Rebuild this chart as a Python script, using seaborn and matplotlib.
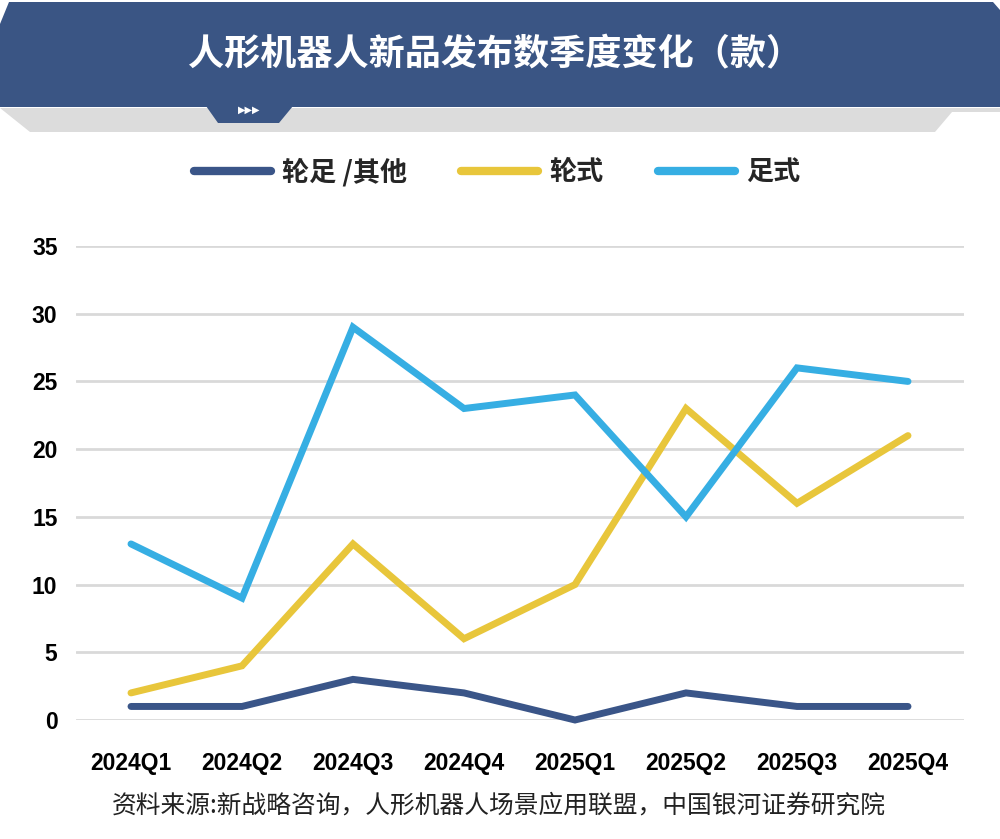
import pandas as pd
import matplotlib
matplotlib.use("Agg")
import matplotlib.pyplot as plt
from matplotlib.patches import Polygon
import seaborn as sns

# Data
quarters = ["2024Q1", "2024Q2", "2024Q3", "2024Q4",
            "2025Q1", "2025Q2", "2025Q3", "2025Q4"]
other = [1, 1, 3, 2, 0, 2, 1, 1]
wheeled = [2, 4, 13, 6, 10, 23, 16, 21]
legged = [13, 9, 29, 23, 24, 15, 26, 25]
series_names = ["轮足 /其他", "轮式", "足式"]
y_ticks = [0, 5, 10, 15, 20, 25, 30, 35]

title = "人形机器人新品发布数季度变化（款）"
source = "资料来源:新战略咨询，人形机器人场景应用联盟，中国银河证券研究院"

colors = ["#3A5588", "#E8C63B", "#36AEE3"]
banner_color = "#3A5584"

df = pd.DataFrame({
    "quarter": quarters * 3,
    "value": other + wheeled + legged,
    "series": [series_names[0]] * 8 + [series_names[1]] * 8 + [series_names[2]] * 8,
})

sns.set_theme(style="white")
cjk = ["Noto Sans CJK SC", "DejaVu Sans"]
plt.rcParams["font.family"] = cjk
tick_family = ["Liberation Sans", "DejaVu Sans"]

W, H = 1000, 839
fig = plt.figure(figsize=(W / 100, H / 100), dpi=100)
fig.patch.set_facecolor("white")


def px(points):
    return [(x / W, 1 - y / H) for x, y in points]


# grey shadow strip under the banner
fig.patches.append(Polygon(px([(0, 108), (30, 132), (935, 132), (952, 112), (1000, 112), (1000, 108)]),
                           closed=True, transform=fig.transFigure, facecolor="#DCDCDC",
                           edgecolor="none", zorder=0))
# title banner
fig.patches.append(Polygon(px([(9, 2), (993, 2), (1000, 10), (1000, 107), (0, 107), (0, 24)]),
                           closed=True, transform=fig.transFigure, facecolor=banner_color,
                           edgecolor="none", zorder=1))
# small tab with arrows
fig.patches.append(Polygon(px([(206, 106), (218, 123), (279, 123), (293, 106)]),
                           closed=True, transform=fig.transFigure, facecolor=banner_color,
                           edgecolor="none", zorder=1))
fig.text(249 / W, 1 - 110 / H, "▶▶▶", color="white", fontsize=7, ha="center", va="center",
         family=["DejaVu Sans"], zorder=2)

fig.text(495 / W, 1 - 55 / H, title, color="white", fontsize=26, fontweight="bold",
         ha="center", va="center", family=cjk)

ax = fig.add_axes([75.5 / W, 1 - 720 / H, (963.5 - 75.5) / W, (720 - 246) / H])

sns.lineplot(data=df, x="quarter", y="value", hue="series", palette=colors,
             linewidth=5, ax=ax, sort=False)
for line in ax.lines:
    line.set_clip_on(False)
    line.set_solid_joinstyle("miter")

ax.set_xlim(-0.5, 7.5)
ax.set_ylim(0, 35)
ax.set_yticks(y_ticks)
ax.yaxis.grid(True, color="#D9D9D9", linewidth=2)
ax.set_axisbelow(True)
for s in ax.spines.values():
    s.set_visible(False)
ax.set_xlabel("")
ax.set_ylabel("")
ax.tick_params(axis="x", length=0, pad=23)
ax.tick_params(axis="y", length=0, pad=13)
for lab in ax.get_xticklabels() + ax.get_yticklabels():
    lab.set_family(tick_family)
    lab.set_fontweight("bold")
    lab.set_fontsize(16.5)
    lab.set_color("black")

leg = ax.legend(loc="center", bbox_to_anchor=(497 / W, 1 - 172 / H),
                bbox_transform=fig.transFigure, ncol=3, frameon=False,
                handlelength=2.85, handletextpad=0.4, columnspacing=2.0,
                prop={"family": cjk, "size": 19.5, "weight": "bold"})
for h in leg.get_lines():
    h.set_linewidth(6)
    h.set_solid_capstyle("round")

fig.text(499 / W, 1 - 806 / H, source, color="#222222", fontsize=17.8,
         ha="center", va="center", family=cjk)

fig.savefig("out.png", dpi=100)
